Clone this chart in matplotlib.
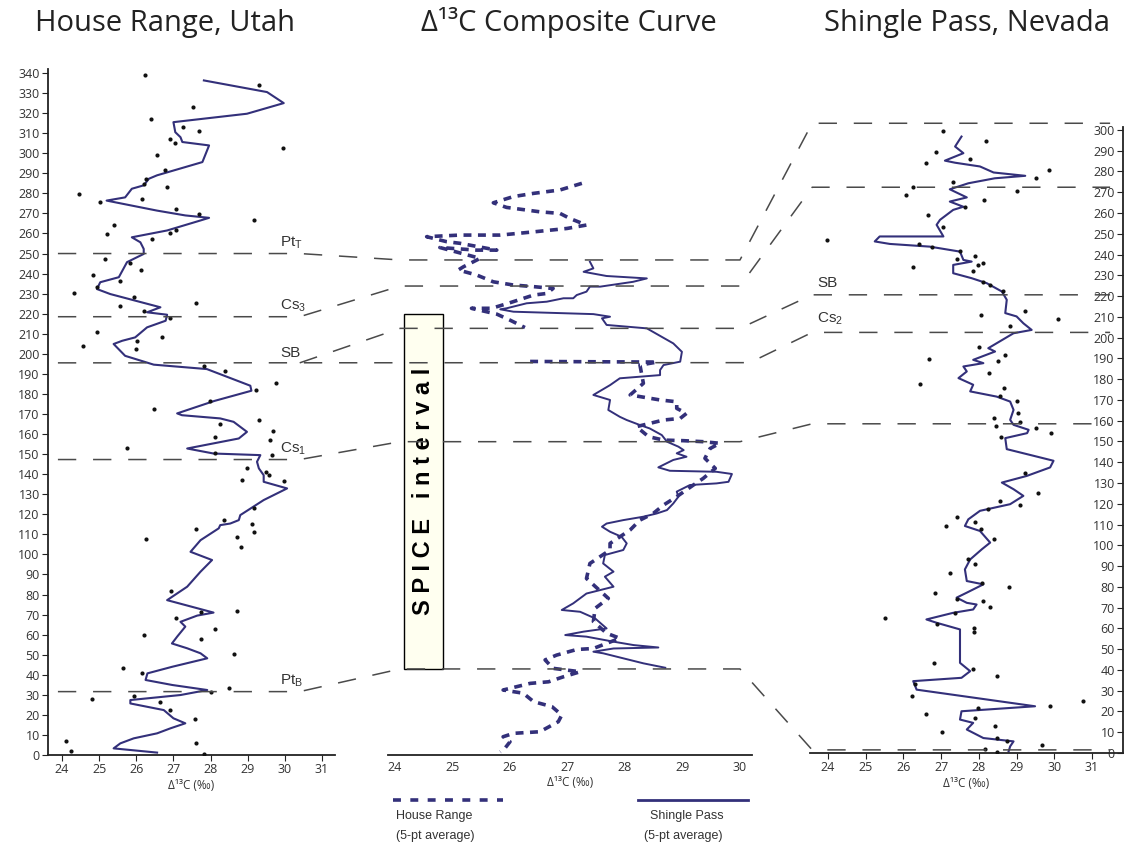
import numpy as np
import matplotlib.pyplot as plt
from matplotlib.lines import Line2D
from matplotlib.patches import Rectangle

plt.rcParams['font.family'] = ['Open Sans', 'DejaVu Sans']

# ---------------- House Range, Utah ----------------
# raw samples (d13C, metres)
hr_x = [26.24, 29.30, 27.53, 26.40, 27.26, 27.68, 26.92, 27.05, 29.95, 26.56,
        26.78, 26.26, 26.20, 26.83, 24.47, 25.03, 26.15, 27.07, 27.70, 29.18,
        25.39, 25.21, 26.90, 27.07, 26.42, 25.17, 26.13, 25.84, 24.83, 25.57,
        24.31, 24.94, 25.93, 27.62, 25.55, 26.20, 26.92, 24.94, 26.70, 26.02,
        24.57, 26.00, 27.82, 28.40, 29.75, 29.21, 27.99, 26.47, 29.30, 28.26,
        29.68, 28.11, 29.61, 25.75, 28.13, 29.66, 28.98, 29.48, 29.57, 28.85,
        29.99, 29.18, 28.35, 27.62, 29.12, 29.18, 28.71, 26.25, 28.82, 26.94,
        28.71, 27.08, 27.73, 28.13, 26.22, 27.75, 28.62, 25.64, 26.15, 28.49,
        28.00, 25.93, 24.81, 26.63, 27.59, 26.92, 24.11, 24.24, 27.62, 27.82]
hr_y = [338.8, 333.8, 323.0, 317.2, 313.0, 311.0, 307.2, 305.0, 302.7, 298.9,
        291.4, 287.3, 284.8, 283.1, 279.8, 275.6, 277.3, 272.3, 269.5, 266.5,
        264.0, 259.5, 260.1, 261.5, 257.3, 247.2, 242.0, 245.2, 239.3, 236.2,
        230.2, 233.2, 228.2, 225.2, 224.0, 221.5, 217.8, 210.7, 208.5, 206.2,
        203.7, 202.3, 194.0, 191.2, 185.7, 181.9, 176.5, 172.3, 166.9, 165.0,
        161.6, 158.6, 157.0, 153.3, 150.7, 149.5, 142.9, 141.2, 139.5, 137.0,
        136.7, 122.9, 117.1, 112.5, 115.4, 111.3, 108.8, 107.5, 103.5, 81.7,
        71.9, 68.4, 71.1, 62.6, 59.8, 57.6, 50.3, 43.2, 40.7, 33.2,
        31.6, 29.6, 27.9, 26.6, 17.8, 22.4, 7.1, 2.0, 5.8, 0.5]
# 5-pt average
hr_avg_x = [27.82, 29.52, 29.97, 28.98, 27.00, 27.05, 27.19, 27.24, 27.96, 27.78,
            26.56, 26.34, 26.20, 25.88, 25.70, 25.20, 26.56, 27.32, 27.96, 27.73,
            26.83, 25.88, 26.11, 26.20, 26.20, 25.75, 25.53, 25.03, 24.94, 25.30,
            26.65, 26.29, 26.83, 26.79, 26.29, 25.97, 25.62, 25.39, 25.70, 26.47,
            27.90, 29.07, 29.10, 28.10, 27.10, 27.23, 28.26, 28.62, 28.98, 28.76,
            27.37, 28.08, 29.34, 29.25, 29.30, 29.43, 29.43, 30.06, 29.43, 28.80,
            28.76, 28.53, 28.26, 28.22, 27.73, 27.46, 28.04, 27.73, 27.37, 26.83,
            28.08, 27.64, 27.19, 27.32, 27.10, 26.96, 27.37, 27.73, 27.91, 26.97,
            26.30, 26.25, 26.97, 27.91, 27.19, 25.84, 25.84, 26.74, 27.00, 27.32,
            26.92, 26.56, 25.93, 25.57, 25.39, 26.56]
hr_avg_y = [336.3, 330.5, 325.0, 319.7, 315.5, 310.5, 308.0, 305.6, 303.9, 295.6,
            289.0, 287.3, 284.0, 282.3, 278.0, 276.4, 271.4, 269.0, 267.8, 266.5,
            261.5, 258.1, 255.6, 252.3, 249.8, 245.7, 238.2, 235.7, 232.3, 229.8,
            223.2, 220.7, 219.5, 216.5, 213.2, 208.2, 206.5, 204.9, 199.0, 194.6,
            192.4, 184.1, 181.6, 176.5, 170.3, 169.4, 167.8, 166.1, 161.1, 157.8,
            152.8, 150.3, 149.5, 146.2, 142.9, 139.5, 136.2, 132.9, 127.1, 119.6,
            117.1, 115.4, 114.6, 113.0, 107.1, 101.3, 97.2, 91.4, 83.9, 77.2,
            71.0, 69.5, 66.4, 64.0, 59.0, 55.6, 53.2, 50.7, 48.2, 44.0,
            40.7, 37.4, 34.9, 32.4, 29.9, 27.4, 25.7, 22.4, 18.3, 15.8,
            13.3, 10.8, 8.3, 5.8, 3.3, 1.2]

# ---------------- Shingle Pass, Nevada ----------------
sp_x = [27.06, 28.19, 26.86, 27.77, 26.61, 29.87, 29.51, 27.32, 26.26, 26.06,
        29.02, 28.14, 27.62, 26.66, 27.06, 23.98, 26.42, 26.77, 27.50, 27.90,
        27.41, 28.10, 27.97, 26.26, 27.85, 28.12, 28.30, 28.63, 29.23, 28.06,
        30.11, 28.83, 28.01, 26.68, 28.70, 28.52, 28.28, 26.44, 28.67, 28.56,
        29.02, 29.05, 28.39, 29.08, 28.46, 29.52, 29.92, 28.59, 29.23, 29.58,
        28.55, 29.09, 28.25, 27.41, 27.12, 27.90, 28.06, 28.39, 27.70, 27.90,
        27.23, 28.81, 28.08, 26.84, 27.41, 28.10, 28.30, 27.37, 25.52, 26.88,
        27.88, 27.88, 26.82, 27.85, 28.47, 26.24, 26.30, 29.89, 30.75, 27.99,
        26.60, 27.90, 28.43, 27.03, 28.47, 28.74, 29.67, 28.16, 28.47]
sp_y = [299.7, 294.9, 289.6, 285.9, 284.0, 280.7, 276.7, 274.7, 272.7, 268.7,
        270.8, 266.3, 263.1, 259.1, 253.2, 247.1, 245.1, 243.5, 241.9, 239.4,
        237.8, 236.1, 235.0, 233.9, 232.3, 227.0, 225.4, 222.2, 212.9, 211.0,
        208.9, 205.8, 195.7, 189.9, 191.7, 188.5, 182.9, 177.7, 175.6, 172.0,
        169.6, 163.6, 161.2, 159.3, 157.5, 156.4, 154.3, 152.1, 135.0, 125.4,
        121.4, 119.3, 117.4, 113.7, 109.3, 111.3, 107.7, 102.9, 93.2, 90.8,
        86.5, 80.1, 82.0, 76.8, 74.3, 73.2, 70.3, 67.5, 65.1, 62.2,
        60.1, 58.2, 43.4, 40.5, 37.0, 27.3, 33.0, 22.8, 24.9, 21.7,
        19.0, 16.9, 13.2, 10.0, 7.2, 5.6, 4.0, 1.9, 0.3]
sp_avg_x = [27.54, 27.37, 27.59, 27.10, 27.37, 28.03, 28.39, 29.23, 28.42, 27.72,
            27.23, 27.68, 27.23, 27.59, 27.32, 26.97, 26.88, 27.06, 25.37, 25.24,
            25.64, 26.70, 27.50, 27.59, 27.81, 27.32, 27.32, 27.81, 28.21, 28.61,
            28.74, 28.70, 29.00, 29.18, 29.40, 28.92, 28.25, 28.43, 27.85, 28.12,
            27.59, 27.68, 27.46, 27.85, 27.77, 28.47, 28.83, 28.92, 28.83, 28.92,
            29.32, 29.28, 28.70, 28.74, 29.45, 29.98, 29.89, 29.27, 28.61, 28.92,
            29.18, 28.83, 28.03, 27.72, 27.63, 28.03, 28.30, 28.08, 27.77, 27.63,
            27.68, 28.12, 27.68, 27.41, 27.68, 27.94, 27.85, 27.32, 26.61, 26.88,
            27.50, 27.50, 27.77, 27.54, 26.26, 26.35, 29.49, 27.54, 27.50, 27.85,
            27.68, 28.12, 28.92, 28.83, 28.79]
sp_avg_y = [296.8, 292.0, 288.8, 285.2, 284.2, 282.4, 279.5, 277.9, 276.7, 274.3,
            271.4, 267.5, 265.5, 263.0, 261.5, 256.7, 254.3, 248.7, 248.7, 246.3,
            245.1, 243.8, 241.4, 237.4, 236.6, 235.0, 231.0, 228.6, 226.2, 222.2,
            218.2, 211.8, 210.2, 206.9, 203.7, 202.1, 194.9, 193.3, 189.3, 187.7,
            186.1, 183.7, 180.5, 177.3, 174.1, 171.6, 169.2, 165.2, 160.4, 158.0,
            155.6, 154.0, 151.6, 146.3, 143.1, 140.7, 137.5, 133.4, 130.2, 127.0,
            123.8, 119.8, 116.6, 112.5, 109.3, 106.9, 101.3, 98.1, 93.2, 88.4,
            82.8, 81.2, 77.2, 74.8, 72.3, 71.5, 69.1, 67.5, 64.3, 62.7,
            59.5, 43.4, 39.4, 36.2, 34.6, 30.5, 22.5, 20.1, 16.1, 14.5,
            11.3, 7.2, 5.6, 3.2, 0.8]

# ---------------- composite curve (composite metres) ----------------
# nan marks the break in the House Range curve below SB
comp_hr_x = [27.25, 26.87, 26.41, 26.06, 25.71, 25.94, 26.52, 26.87, 27.04, 27.33,
             26.99, 26.41, 25.83, 25.13, 24.55, 24.90, 25.13, 25.77, 25.42, 24.78,
             25.48, 25.19, 25.10, 25.42, 25.71, 26.06, 26.41, 26.75, 26.64, 26.41,
             25.97, 25.68, 25.33, 25.77, 26.00, 26.26, np.nan, 26.35, 28.56, 28.26,
             28.32, 28.09, 28.61, 28.90, 28.90, 29.07, 28.96, 28.67, 28.20, 28.41,
             28.67, 29.02, 29.36, 29.65, 29.48, 29.39, 29.57, 29.36, 29.19, 28.90,
             28.67, 28.49, 28.26, 28.09, 27.74, 27.74, 27.39, 27.33, 27.71, 27.48,
             27.45, 27.68, 27.91, 27.45, 27.16, 26.81, 26.61, 26.75, 27.22, 26.93,
             26.67, 26.35, 25.88, 26.23, 26.41, 26.73, 26.90, 26.84, 26.52, 26.06,
             25.88, 26.00, 25.91, 25.83]
comp_hr_y = [285.0, 281.7, 280.0, 278.4, 275.3, 273.0, 270.8, 270.0, 267.5, 264.2,
             262.5, 260.8, 259.2, 259.2, 258.4, 255.9, 255.1, 251.7, 251.7, 253.0,
             247.6, 243.4, 241.8, 239.3, 235.9, 234.3, 233.5, 232.6, 230.1, 229.3,
             225.2, 222.7, 222.7, 219.8, 216.8, 213.1, np.nan, 196.2, 195.9, 194.4,
             185.3, 179.5, 177.0, 176.1, 172.8, 170.3, 167.8, 167.0, 163.7, 158.7,
             157.0, 156.7, 156.2, 155.4, 152.8, 147.9, 142.9, 137.9, 134.6, 128.8,
             124.6, 120.4, 117.1, 112.2, 105.5, 102.2, 95.5, 88.0, 78.1, 73.1,
             66.5, 60.7, 58.2, 53.1, 52.6, 49.8, 47.4, 43.2, 41.5, 39.0,
             36.5, 35.7, 32.4, 30.8, 26.6, 24.1, 19.9, 16.6, 11.6, 10.8,
             9.1, 6.6, 3.3, 1.6]
comp_sp_x = [27.39, 27.45, 27.28, 27.68, 28.38, 28.14, 27.57, 27.39, 27.33, 27.16,
             27.10, 26.93, 26.64, 26.29, 25.94, 25.83, 26.06, 27.45, 27.74, 27.60,
             27.68, 28.38, 28.84, 28.99, 28.96, 28.67, 28.61, 28.61, 27.91, 27.74,
             27.45, 27.74, 27.71, 27.91, 28.03, 28.26, 28.43, 28.64, 28.73, 28.93,
             29.02, 28.90, 29.07, 28.84, 28.58, 28.78, 29.59, 29.86, 29.80, 29.59,
             29.13, 28.90, 28.93, 28.84, 28.73, 28.55, 28.32, 27.97, 27.68, 27.60,
             27.74, 27.94, 28.03, 27.97, 27.65, 27.62, 27.80, 27.65, 27.80, 27.33,
             27.10, 26.90, 27.22, 27.48, 27.68, 27.28, 26.96, 27.33, 27.80, 28.15,
             28.58, 27.80, 27.45, 27.62, 27.97, 28.32, 28.70]
comp_sp_y = [245.9, 242.6, 240.9, 238.8, 237.6, 235.9, 233.5, 233.5, 231.0, 229.3,
             227.7, 227.7, 226.0, 225.2, 222.7, 222.2, 221.0, 219.8, 218.5, 217.7,
             214.4, 212.7, 205.2, 201.0, 196.1, 194.4, 191.9, 189.4, 187.8, 184.4,
             179.5, 177.0, 172.0, 168.6, 167.0, 164.5, 162.8, 159.5, 156.2, 153.7,
             152.0, 150.4, 148.7, 147.1, 143.4, 141.7, 141.2, 140.1, 136.2, 135.4,
             134.6, 131.3, 128.8, 125.4, 122.1, 120.4, 118.8, 117.1, 115.4, 113.8,
             111.3, 108.8, 105.5, 102.2, 99.7, 95.5, 91.4, 88.9, 83.9, 80.5,
             75.6, 72.3, 71.4, 68.1, 63.1, 61.5, 59.8, 59.0, 56.5, 54.8,
             53.6, 53.1, 51.5, 50.7, 48.2, 45.7, 43.5]

# correlation horizons
left_names = ['Pt$_\\mathregular{T}$', 'Cs$_\\mathregular{3}$', 'SB', 'Cs$_\\mathregular{1}$', 'Pt$_\\mathregular{B}$']
left_depths = [250.0, 218.5, 195.5, 147.3, 31.6]
mid_depths = [246.8, 233.8, 212.7, 195.6, 156.2, 42.9]
right_depths = [303.2, 272.4, 220.6, 202.5, 158.5, 1.5]
right_names = ['SB', 'Cs$_\\mathregular{2}$']
right_name_depths = [220.6, 202.5]

spice_bottom, spice_top = 42.9, 219.8

LINE = '#33307a'
DASH = '#4a4a4a'
TXT = '#333333'
W, H = 1128, 846

fig = plt.figure(figsize=(W / 100, H / 100), dpi=100)

ax_l = fig.add_axes([48 / W, 91 / H, 287 / W, 686 / H])
ax_m = fig.add_axes([388 / W, 91 / H, 364 / W, 686 / H])
ax_r = fig.add_axes([810 / W, 93 / H, 313 / W, 626 / H])

for ax in (ax_l, ax_m, ax_r):
    ax.set_facecolor('none')
    ax.spines['top'].set_visible(False)
    ax.spines['right'].set_visible(False)
    ax.spines['bottom'].set_linewidth(1.3)
    ax.spines['bottom'].set_color('#222222')
    ax.tick_params(labelsize=9, labelcolor=TXT, length=4, width=0.8, pad=2, color='#222222')
    ax.set_xlabel('Δ¹³C (‰)', fontsize=8.5, color=TXT, labelpad=2)

# left panel
ax_l.set_xlim(23.623, 31.35)
ax_l.set_ylim(0, 342)
ax_l.set_xticks(range(24, 32))
ax_l.set_yticks(range(0, 341, 10))
ax_l.spines['left'].set_linewidth(1.3)
ax_l.spines['left'].set_color('#222222')
ax_l.plot(hr_avg_x, hr_avg_y, color=LINE, lw=1.5, zorder=2)
ax_l.scatter(hr_x, hr_y, s=9, color='#111111', zorder=3, linewidths=0)

# middle panel
ax_m.set_xlim(23.878, 30.209)
ax_m.set_ylim(0, 342)
ax_m.set_xticks(range(24, 31))
ax_m.set_yticks([])
ax_m.spines['left'].set_visible(False)
ax_m.tick_params(axis='x', length=0, pad=4)
ax_m.add_patch(Rectangle((24.157, spice_bottom), 0.678, spice_top - spice_bottom,
                         facecolor='#fffff0', edgecolor='black', lw=1.0, zorder=1))
ax_m.text(24.50, 131.6, 'S P I C E   i n t e r v a l', rotation=90, ha='center', va='center',
          fontsize=17, fontweight='bold', family=['Liberation Sans', 'DejaVu Sans'], zorder=2)
ax_m.plot(comp_sp_x, comp_sp_y, color=LINE, lw=1.4, zorder=3)
ax_m.plot(comp_hr_x, comp_hr_y, color=LINE, lw=2.6, dashes=(2.2, 1.8), zorder=4)

# right panel
ax_r.set_xlim(23.523, 31.822)
ax_r.set_ylim(0, 301.4)
ax_r.set_xticks(range(24, 32))
ax_r.set_yticks(range(0, 301, 10))
ax_r.spines['left'].set_position(('axes', 1.0))
ax_r.spines['left'].set_linewidth(1.3)
ax_r.spines['left'].set_color('#222222')
ax_r.plot(sp_avg_x, sp_avg_y, color=LINE, lw=1.5, zorder=2)
ax_r.scatter(sp_x, sp_y, s=9, color='#111111', zorder=3, linewidths=0)

# titles
fig.text(165 / W, 1 - 23 / H, 'House Range, Utah', ha='center', va='center', fontsize=21, color='#222222')
fig.text(569 / W, 1 - 23 / H, 'Δ¹³C Composite Curve', ha='center', va='center', fontsize=21, color='#222222')
fig.text(967 / W, 1 - 23 / H, 'Shingle Pass, Nevada', ha='center', va='center', fontsize=21, color='#222222')

# correlation lines
inv = fig.transFigure.inverted()


def fpt(ax, x, y):
    return inv.transform(ax.transData.transform((x, y)))


def chain(pts):
    xy = np.array([fpt(a, x, y) for a, x, y in pts])
    fig.add_artist(Line2D(xy[:, 0], xy[:, 1], transform=fig.transFigure, color=DASH,
                          lw=1.1, dashes=(12, 11), zorder=5))


L0, L1 = 23.89, 30.40
M0, M1 = 24.09, 30.00
R0, R1 = 23.58, 31.48
links = [(0, 0), (1, 1), (2, 2), (3, 4), (4, 5)]
for li, mi in links:
    chain([(ax_l, L0 if li != 2 else L1, left_depths[li]), (ax_l, L1, left_depths[li]),
           (ax_m, M0, mid_depths[mi]), (ax_m, M1, mid_depths[mi]),
           (ax_r, R0, right_depths[mi]), (ax_r, R1, right_depths[mi])])
# SB straight through to the composite
chain([(ax_l, L0, left_depths[2]), (ax_m, 30.17, mid_depths[3]),
       (ax_r, R0, right_depths[3]), (ax_r, R1, right_depths[3])])

for name, d in zip(left_names, left_depths):
    ax_l.text(29.87, d + 1.5, name, fontsize=11, color=TXT, va='bottom',
              family=['Liberation Sans', 'DejaVu Sans'])
for name, d in zip(right_names, right_name_depths):
    ax_r.text(23.72, d + 2.5, name, fontsize=11, color=TXT, va='bottom',
              family=['Liberation Sans', 'DejaVu Sans'])

# legend
fig.add_artist(Line2D([393 / W, 503 / W], [1 - 800 / H] * 2, color=LINE, lw=2.6, dashes=(2.2, 2.6)))
fig.add_artist(Line2D([638 / W, 748 / W], [1 - 800 / H] * 2, color=LINE, lw=2.0))
lg = dict(fontsize=9, color=TXT, va='center', family=['Liberation Sans', 'DejaVu Sans'])
fig.text(396 / W, 1 - 816 / H, 'House Range', **lg)
fig.text(396 / W, 1 - 836 / H, '(5-pt average)', **lg)
fig.text(650 / W, 1 - 816 / H, 'Shingle Pass', **lg)
fig.text(644 / W, 1 - 836 / H, '(5-pt average)', **lg)

fig.savefig('out.png', dpi=100)
